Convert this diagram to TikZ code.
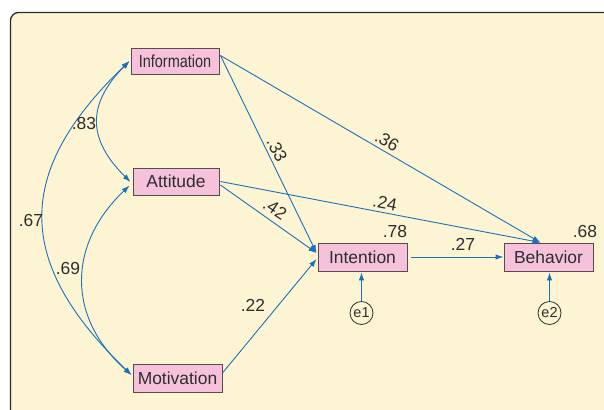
\documentclass[tikz,border=0pt]{standalone}
\usepackage{fontspec}
\setmainfont{Liberation Sans}
\usetikzlibrary{arrows.meta}
\definecolor{panelbg}{HTML}{FDF4D4}
\definecolor{panelln}{HTML}{2B2B2B}
\definecolor{boxfill}{HTML}{F6C1DA}
\definecolor{boxln}{HTML}{5A4A4A}
\definecolor{lnblue}{HTML}{1A72BB}
\definecolor{txt}{HTML}{2E2E2E}
\tikzset{
  var/.style={draw=boxln, line width=0.9bp, fill=boxfill, inner sep=0pt,
    minimum width=89bp, minimum height=27bp, text=txt,
    font=\fontsize{17.5}{20}\selectfont},
  err/.style={draw=txt, line width=0.8bp, circle, inner sep=0pt,
    minimum size=23bp, text=txt, font=\fontsize{14.5}{16}\selectfont},
  path/.style={draw=lnblue, line width=0.9bp, -{Latex[length=8bp,width=5.5bp]}},
  cov/.style={draw=lnblue, line width=0.9bp, {Latex[length=8bp,width=5.5bp]}-{Latex[length=8bp,width=5.5bp]}},
  lbl/.style={text=txt, inner sep=0pt, font=\fontsize{17.5}{20}\selectfont}
}
\begin{document}
\begin{tikzpicture}[x=1bp,y=1bp]
\useasboundingbox (0,0) rectangle (604,-409);
\clip (0,0) rectangle (604,-409);
\draw[panelln, line width=1.3bp, fill=panelbg, rounded corners=8bp] (10.5,-12.5) rectangle (640,-440);

\node[var, minimum width=88bp, minimum height=26bp] (inf) at (175,-61) {\scalebox{0.83}[1]{Information}};
\node[var, minimum width=86bp] (att) at (176,-181.5) {Attitude};
\node[var, minimum height=28bp] (mot) at (177.5,-378) {Motivation};
\node[var, minimum height=28bp] (int) at (362.5,-257) {Intention};
\node[var, minimum height=28bp] (beh) at (548.5,-257) {Behavior};
\node[err] (e1) at (361.5,-313) {e1};
\node[err] (e2) at (549.5,-313) {e2};

% covariances
\draw[cov] ([xshift=-1bp]inf.west) .. controls (87,-104) and (87,-139) .. ([xshift=-2bp,yshift=-0.5bp]att.west);
\draw[cov] ([xshift=-1bp]inf.west) .. controls (14,-172) and (14,-262) .. ([xshift=-1bp,yshift=3bp]mot.west);
\draw[cov] ([xshift=-3bp,yshift=-4bp]att.west) .. controls (67,-245) and (67,-318) .. ([xshift=-1bp,yshift=3bp]mot.west);

% paths
\draw[path] ([xshift=1bp,yshift=5.5bp]inf.east) -- ([xshift=-1bp,yshift=4bp]int.west);
\draw[path] ([xshift=1bp,yshift=5.5bp]inf.east) -- ([xshift=-8bp]beh.north);
\draw[path] ([xshift=1bp,yshift=-3.5bp]att.east) -- ([xshift=-1bp,yshift=4bp]int.west);
\draw[path] ([xshift=1bp]att.east) -- ([xshift=-8bp]beh.north);
\draw[path] ([yshift=5bp]mot.east) -- ([xshift=-1bp,yshift=-2bp]int.west);
\draw[path] ([xshift=4bp]int.east) -- (beh.west);
\draw[path] (e1.north) -- ([yshift=-1bp]int.south -| e1.north);
\draw[path] (e2.north) -- ([yshift=-1bp]beh.south -| e2.north);

% labels
\node[lbl] (l83) at (84,-123) {.83};
\node[lbl] (l67) at (31,-220) {.67};
\node[lbl] (l69) at (68,-268) {.69};
\node[lbl, rotate=-63] (l33) at (277,-150) {.33};
\node[lbl, rotate=-30] (l36) at (387,-141) {.36};
\node[lbl, rotate=-11] (l24) at (385,-203) {.24};
\node[lbl, rotate=-34] (l42) at (275,-209) {.42};
\node[lbl] (l22) at (253,-305) {.22};
\node[lbl] (l78) at (395,-231) {.78};
\node[lbl] (l27) at (463,-244) {.27};
\node[lbl] (l68) at (585,-231) {.68};
\end{tikzpicture}
\end{document}
